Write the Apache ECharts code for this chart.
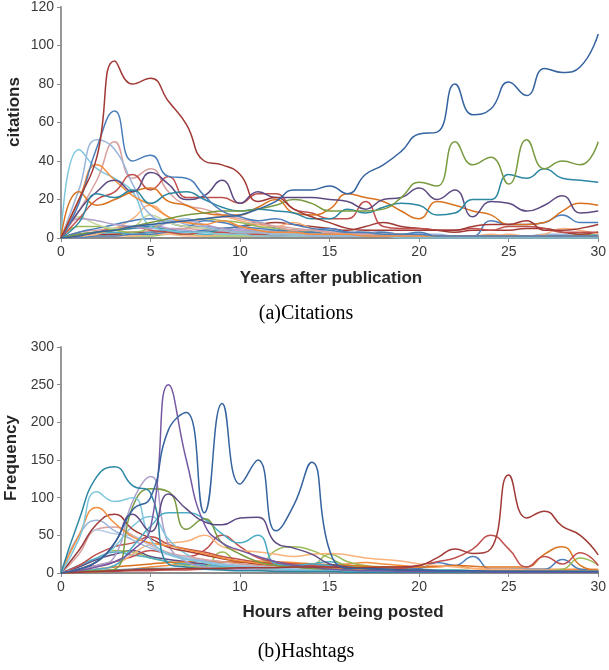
<!DOCTYPE html>
<html>
<head>
<meta charset="utf-8">
<script src="https://cdn.jsdelivr.net/npm/echarts@6/dist/echarts.min.js"></script>
<style>
html,body{margin:0;padding:0;background:#fff;}
#chart{width:609px;height:670px;}
</style>
</head>
<body>
<div id="chart"></div>
<script>
// ---------- shared x values ----------
const xSteps = [0,1,2,3,4,5,6,7,8,9,10,11,12,13,14,15,16,17,18,19,20,21,22,23,24,25,26,27,28,29,30];
const xTicksA = [0,5,10,15,20,25,30];
const yTicksA = [0,20,40,60,80,100,120];
const yTicksB = [0,50,100,150,200,250,300];

// ---------- (a) Citations: citations per year ----------
const citeRedBig   = [0,20,42,92,80,83,71,59,40,38,33,19,21,15,11,8,5,4,4,4,4,4,4,6,7,7,9,4,4,5,7];
const citeBlue67   = [0,18,47,66,40,43,32,31,22,14,11,9,10,7,5,4,3,3,2,2,2,1,1,1,1,1,1,1,1,1,1];
const citeBlueLong = [0,1,3,4,6,7,8,9,10,11,12,15,19,25,25,27,23,33,38,45,54,55,80,64,67,81,74,88,86,89,106];
const citeGreen    = [0,2,3,4,6,8,10,12,13,14,14,15,17,20,18,14,14,14,15,21,29,27,50,38,42,28,51,36,40,38,50];
const citeTeal     = [0,8,23,21,25,18,23,24,20,16,14,15,14,13,10,10,15,13,16,18,17,12,13,20,20,33,31,36,31,30,29];
const citePurple   = [0,14,24,30,24,34,28,20,22,30,18,24,21,21,21,20,19,15,20,21,26,20,25,11,19,18,14,17,22,13,14];
const citeOrangeDk = [0,24,17,20,24,26,19,17,13,12,12,16,20,13,12,15,23,21,19,14,10,19,17,14,12,7,7,8,14,18,17];
const citeOrange   = [0,20,38,30,22,17,11,8,7,9,6,4,3,3,2,2,2,1,1,1,1,1,1,1,1,1,1,1,1,1,1];
const citeLtBlue   = [0,25,51,46,28,12,9,10,6,4,3,3,2,2,1,1,1,1,1,1,1,1,1,1,1,1,1,1,1,1,1];
const citePink     = [0,14,30,50,31,36,24,17,15,12,10,8,6,4,4,3,2,2,1,1,1,1,1,1,1,1,1,1,1,1,1];
const citeLtAqua   = [0,46,36,31,24,6,4,3,3,2,2,1,1,1,1,1,1,1,1,0,0,0,0,0,0,0,0,0,0,0,0];
const citeRed2     = [0,10,20,24,33,25,32,21,21,21,18,23,23,15,13,10,10,19,6,5,5,4,4,5,4,6,6,5,3,3,3];
const citeLavender = [0,10,9,7,6,5,8,9,7,5,4,4,3,3,2,2,2,2,1,1,1,1,1,1,1,1,1,1,1,1,1];
const citePaleGrn  = [0,11,7,5,6,12,8,6,5,4,3,3,2,2,2,1,1,1,1,1,1,1,1,1,1,1,1,1,1,1,1];
const citeBlueMid  = [0,3,5,7,9,10,8,6,9,8,6,5,4,3,3,2,2,2,1,1,1,1,1,1,1,1,1,1,1,1,1];
const citeGreen2   = [0,6,6,4,3,5,8,9,10,9,8,6,5,4,3,2,2,1,1,1,1,1,1,1,1,1,1,1,1,1,1];
const citeLtOrange = [0,1,2,5,10,17,11,8,10,11,9,7,6,8,5,3,2,3,2,2,1,1,1,1,2,1,1,1,1,1,1];
const citeTealLow  = [0,2,3,4,5,6,4,3,3,4,3,3,3,4,3,2,2,2,1,1,1,1,1,1,1,1,1,1,1,1,1];
const citeRedLow   = [0,1,3,5,6,4,3,2,3,3,2,2,1,2,2,1,1,1,1,1,1,1,1,1,1,1,1,1,1,1,1];
const citePurpLow  = [0,2,3,4,5,7,5,4,3,3,5,3,2,2,1,1,1,1,1,1,1,1,1,1,1,1,1,1,1,1,1];
const citeBlueLate = [0,0,1,1,2,2,3,3,4,5,6,8,5,3,4,5,3,2,3,2,3,1,1,1,9,7,7,8,12,8,8];
const citeOrngLate = [0,0,1,1,1,2,2,1,1,2,2,1,1,1,1,2,1,1,1,1,1,1,1,1,1,2,1,2,5,4,2];
const citeAquaLow  = [0,1,2,3,2,3,4,3,2,2,2,2,2,3,3,2,2,1,1,1,1,1,1,1,1,1,1,1,1,1,2];
const citePinkLow  = [0,3,4,5,6,5,5,5,4,4,3,5,6,5,4,3,3,2,2,2,1,1,1,1,1,1,1,1,1,1,1];
const citeLtBlueLo = [0,2,3,5,5,6,10,7,6,5,4,3,4,4,3,2,2,4,3,2,2,2,1,1,1,1,1,2,2,1,1];
const citeDkRedLow = [0,1,2,2,3,3,4,5,6,5,6,7,8,7,6,5,4,6,8,6,5,4,3,4,4,4,5,5,3,2,3];
const citeGrnLow   = [0,1,1,2,1,1,2,2,1,1,1,1,1,1,1,1,1,1,1,1,1,1,1,1,1,1,1,1,1,2,2];

// ---------- (b) Hashtags: frequency per hour ----------
const tagBlue      = [0,5,15,40,84,100,190,213,80,225,118,150,56,90,147,30,6,6,5,4,4,3,3,3,2,2,2,2,2,2,2];
const tagPurple    = [0,3,8,15,30,60,250,150,65,40,30,22,15,10,8,5,4,3,3,2,2,2,2,2,1,1,1,1,1,1,1];
const tagDkPurple  = [0,5,15,40,78,55,105,85,68,64,73,74,40,33,25,12,8,6,5,4,3,3,3,2,2,2,2,2,2,1,1];
const tagTealDk    = [0,70,128,141,116,106,12,8,5,4,3,3,2,2,2,2,1,1,1,1,1,1,1,1,1,1,1,1,1,1,1];
const tagLtAqua    = [0,45,108,95,100,45,25,18,14,10,8,6,5,4,3,3,2,2,2,2,1,1,1,1,1,1,1,1,1,1,1];
const tagGreen     = [0,2,3,5,88,112,108,58,72,40,25,15,10,8,6,5,4,3,3,3,2,2,2,2,2,2,2,2,2,2,2];
const tagTeal      = [0,2,5,10,35,62,80,80,72,52,40,50,12,10,12,10,8,6,5,4,3,3,3,2,2,2,2,2,2,2,2];
const tagOrange    = [0,50,87,66,48,40,36,31,26,20,16,13,10,9,7,6,5,4,3,3,2,2,2,2,2,2,2,2,2,2,2];
const tagDkRed     = [0,30,65,78,58,46,34,29,24,19,15,12,10,8,7,5,4,3,3,2,2,2,2,2,2,2,2,2,2,2,2];
const tagLtBlue    = [0,50,70,56,44,33,26,19,16,12,9,8,7,5,4,4,3,2,2,2,2,2,2,2,2,2,2,2,2,2,2];
const tagPaleBlue  = [0,30,57,52,49,36,24,21,14,11,10,8,6,6,4,3,3,2,2,2,2,2,2,2,2,2,2,2,2,2,2];
const tagPink      = [0,25,58,61,50,38,27,22,18,15,12,10,8,7,6,5,4,3,3,3,2,2,2,2,2,2,2,2,2,2,2];
const tagLtTeal    = [0,5,15,35,62,75,45,25,15,12,10,8,6,5,4,3,3,2,2,2,2,2,2,2,2,2,2,2,2,2,2];
const tagLavender  = [0,5,10,22,95,128,38,15,8,6,5,4,3,3,2,2,2,2,2,2,2,1,1,1,1,1,1,1,1,1,1];
const tagRed       = [0,10,25,35,40,48,38,32,28,22,18,14,12,10,8,6,5,4,4,3,3,3,3,2,2,2,2,2,2,2,2];
const tagLtOrange  = [0,2,5,10,25,38,40,42,50,35,30,28,25,22,25,26,24,20,18,16,12,10,8,6,5,5,4,4,3,3,3];
const tagRed2      = [0,5,10,15,22,30,25,22,30,50,35,20,15,12,10,8,6,5,5,4,4,3,3,3,3,3,3,3,3,3,3];
const tagRedLate   = [0,1,2,3,4,5,5,6,6,6,7,7,7,8,8,8,7,7,8,8,10,20,32,26,32,130,73,82,62,50,24];
const tagRedHump   = [0,1,2,2,3,3,4,4,5,5,5,5,6,6,6,6,6,5,5,6,10,15,20,32,50,32,8,22,12,27,10];
const tagOrangeDk  = [0,3,5,8,10,12,14,15,16,15,14,14,13,12,12,11,10,9,8,8,8,9,10,9,8,8,8,25,35,10,3];
const tagGreenLate = [0,1,2,3,4,5,5,6,8,28,12,10,30,35,30,20,10,8,6,5,4,3,3,3,3,3,3,3,5,20,10];
const tagBlueLate  = [0,2,3,4,5,6,6,6,6,6,6,6,6,6,8,10,8,6,5,5,6,14,10,22,5,5,5,5,18,5,3];
const tagAquaLow   = [0,10,20,28,24,20,15,12,10,9,8,7,6,8,12,15,10,8,6,5,5,4,4,3,3,3,3,3,3,3,3];
const tagGreenMid  = [0,5,15,30,28,20,15,10,8,7,6,5,6,8,10,25,15,10,8,6,5,4,4,3,3,3,3,3,3,3,3];
const tagPurpleLow = [0,8,18,25,30,22,18,15,12,10,8,7,6,5,6,5,4,4,3,3,3,3,2,2,2,2,2,2,2,2,2];
const tagOrangeLow = [0,1,2,3,5,8,10,12,13,14,15,16,15,14,12,10,12,14,12,10,8,8,10,6,5,5,5,5,5,5,5];

// ---------- styles (colours) ----------
const C = {
  dkBlue:'#35639F', blue:'#4A7EBB', dkRed:'#A13A36', red:'#C0504D', green:'#7A9A41', ltGreen:'#9BBB59',
  purple:'#7659A3', dkPurple:'#5E4A82', teal:'#2C88A2', aqua:'#4BACC6', orange:'#F38D3C', dkOrange:'#D9731F',
  ltBlue:'#9AB5DA', paleBlue:'#B9CCE6', pink:'#D9A09E', ltAqua:'#7DC6DC', lavender:'#AE9ECC',
  ltOrange:'#F9B27C', paleGreen:'#C3D69C'
};

const seriesA = [
  [citeGrnLow,C.ltGreen],[citeDkRedLow,C.dkRed],[citeLtBlueLo,C.ltBlue],[citePinkLow,C.pink],
  [citeAquaLow,C.aqua],[citeOrngLate,C.ltOrange],[citeBlueLate,C.blue],[citePurpLow,C.lavender],
  [citeRedLow,C.red],[citeTealLow,C.teal],[citeLtOrange,C.ltOrange],[citeGreen2,C.ltGreen],
  [citeBlueMid,C.blue],[citePaleGrn,C.paleGreen],[citeLavender,C.lavender],
  [citeLtAqua,C.ltAqua],[citePink,C.pink],[citeLtBlue,C.ltBlue],[citeOrange,C.orange],
  [citeRed2,C.red],[citeOrangeDk,C.dkOrange],[citePurple,C.dkPurple],[citeTeal,C.teal],
  [citeGreen,C.green],[citeBlue67,C.blue],[citeRedBig,C.dkRed],[citeBlueLong,C.dkBlue]
];
const seriesB = [
  [tagOrangeLow,C.orange],[tagPurpleLow,C.dkPurple],[tagGreenMid,C.ltGreen],[tagAquaLow,C.aqua],
  [tagBlueLate,C.blue],[tagGreenLate,C.ltGreen],[tagOrangeDk,C.dkOrange],[tagRedHump,C.red],
  [tagRed2,C.red],[tagLtOrange,C.ltOrange],[tagRed,C.red],[tagLavender,C.lavender],
  [tagLtTeal,C.ltAqua],[tagPink,C.pink],[tagPaleBlue,C.paleBlue],[tagLtBlue,C.ltBlue],
  [tagDkRed,C.dkRed],[tagOrange,C.orange],[tagTeal,C.aqua],[tagGreen,C.green],
  [tagLtAqua,C.ltAqua],[tagTealDk,C.teal],[tagDkPurple,C.dkPurple],[tagPurple,C.purple],
  [tagRedLate,C.dkRed],[tagBlue,C.dkBlue]
];

function build(list, idx){
  return list.map(function(s){
    return {
      type:'line', xAxisIndex:idx, yAxisIndex:idx, smooth:0.5, showSymbol:false, symbol:'none',
      data: s[0].map(function(v,i){ return [xSteps[i], v]; }),
      lineStyle:{color:s[1], width:1.5}, itemStyle:{color:s[1]}, silent:true
    };
  });
}

const axisCommon = {
  axisLine:{show:true, lineStyle:{color:'#8C8C8C', width:1.8}},
  axisTick:{show:true, length:4, lineStyle:{color:'#8C8C8C', width:1}},
  axisLabel:{color:'#3A3A3A', fontFamily:'Liberation Sans', fontSize:14, margin:7},
  splitLine:{show:false}
};
function xAx(idx){ return Object.assign({type:'value', gridIndex:idx, min:0, max:30, interval:5}, JSON.parse(JSON.stringify(axisCommon))); }
function yAx(idx, max, step){ return Object.assign({type:'value', gridIndex:idx, min:0, max:max, interval:step}, JSON.parse(JSON.stringify(axisCommon))); }

const titleFont = 'bold 17px "Liberation Sans", Arial, sans-serif';
const capFont = '20px "Liberation Serif", "Times New Roman", serif';

const chart = echarts.init(document.getElementById('chart'), null, {renderer:'canvas'});
chart.setOption({
  animation:false,
  backgroundColor:'#ffffff',
  grid:[
    {left:61, top:4, width:540, height:234},
    {left:61, top:347, width:540, height:226}
  ],
  xAxis:[xAx(0), xAx(1)],
  yAxis:[yAx(0, yTicksA[yTicksA.length-1], yTicksA[1]-yTicksA[0]), yAx(1, yTicksB[yTicksB.length-1], yTicksB[1]-yTicksB[0])],
  series: build(seriesA,0).concat(build(seriesB,1)),
  graphic:[
    {type:'text', x:14, y:112, rotation:Math.PI/2, style:{text:'citations', font:titleFont, fill:'#262626', align:'center', verticalAlign:'middle'}},
    {type:'text', x:331, y:278, style:{text:'Years after publication', font:titleFont, fill:'#262626', align:'center', verticalAlign:'middle'}},
    {type:'text', x:306, y:314, style:{text:'(a)Citations', font:capFont, fill:'#000', align:'center', verticalAlign:'middle'}},
    {type:'text', x:11, y:458, rotation:Math.PI/2, style:{text:'Frequency', font:titleFont, fill:'#262626', align:'center', verticalAlign:'middle'}},
    {type:'text', x:343, y:612, style:{text:'Hours after being posted', font:titleFont, fill:'#262626', align:'center', verticalAlign:'middle'}},
    {type:'text', x:306, y:652, style:{text:'(b)Hashtags', font:capFont, fill:'#000', align:'center', verticalAlign:'middle'}}
  ]
});
</script>
</body>
</html>
